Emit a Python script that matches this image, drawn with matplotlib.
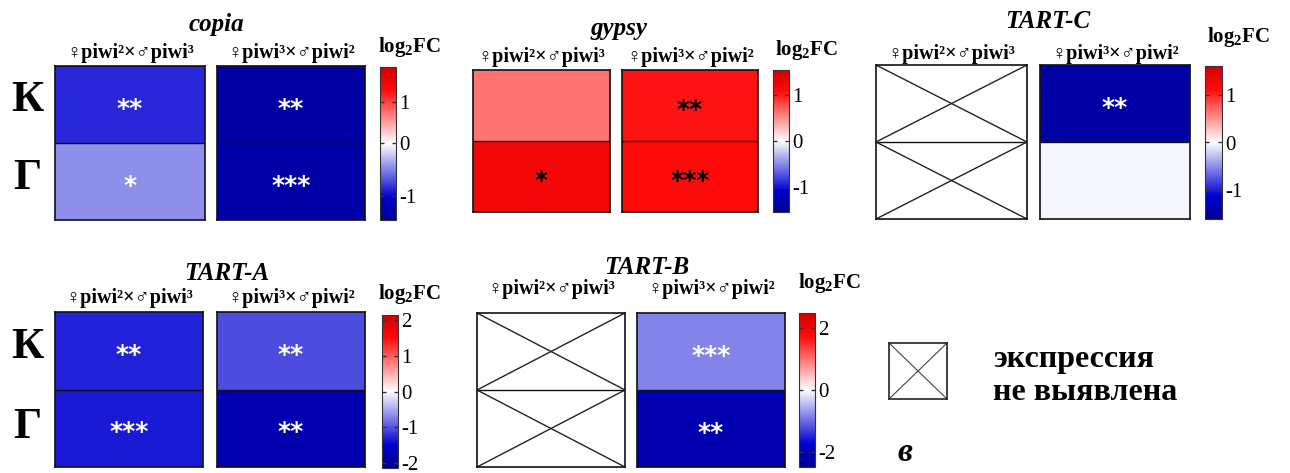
import matplotlib
matplotlib.use("Agg")
import matplotlib.pyplot as plt
import numpy as np
from matplotlib.colors import LinearSegmentedColormap, TwoSlopeNorm
from matplotlib.cm import ScalarMappable

plt.rcParams['axes.unicode_minus'] = False
plt.rcParams['mathtext.fontset'] = 'custom'
plt.rcParams['mathtext.bf'] = 'Liberation Serif:bold'
plt.rcParams['mathtext.rm'] = 'Liberation Serif'

# data: rows = К, Г ; columns = ♀piwi2×♂piwi3, ♀piwi3×♂piwi2 ; nan = no expression
titles = ['copia', 'gypsy', 'TART-C', 'TART-A', 'TART-B']
rows = ['К', 'Г']
cols = ['♀piwi²×♂piwi³', '♀piwi³×♂piwi²']

copia_fc = [[-0.85, -1.30], [-0.45, -1.28]]
gypsy_fc = [[0.62, 1.05], [1.20, 1.10]]
tartc_fc = [[np.nan, -1.45], [np.nan, -0.05]]
tarta_fc = [[-1.30, -1.05], [-1.35, -1.80]]
tartb_fc = [[np.nan, -0.85], [np.nan, -2.10]]

copia_sig = [['**', '**'], ['*', '***']]
gypsy_sig = [['', '**'], ['*', '***']]
tartc_sig = [['', '**'], ['', '']]
tarta_sig = [['**', '**'], ['***', '**']]
tartb_sig = [['', '***'], ['', '**']]

copia_lim = (-1.45, 1.85)
gypsy_lim = (-1.55, 1.55)
tartc_lim = (-1.62, 1.62)
tarta_lim = (-2.15, 2.15)
tartb_lim = (-2.5, 2.5)

copia_ticks = [-1, 0, 1]
gypsy_ticks = [-1, 0, 1]
tartc_ticks = [-1, 0, 1]
tarta_ticks = [-2, -1, 0, 1, 2]
tartb_ticks = [-2, 0, 2]

W, H = 1290, 473
fig = plt.figure(figsize=(W / 100, H / 100), dpi=100)

def box(x0, y0, x1, y1):
    return [x0 / W, 1 - y1 / H, (x1 - x0) / W, (y1 - y0) / H]

def ftext(x, y, s, **kw):
    fig.text(x / W, 1 - y / H, s, **kw)

cmap = LinearSegmentedColormap.from_list('fc', [
    (0.0, '#00008c'), (0.15, '#0000d2'), (0.5, '#ffffff'),
    (0.85, '#ff0a0a'), (1.0, '#d20000')])
cmap.set_bad('white')

serif = ['Liberation Serif', 'DejaVu Serif', 'DejaVu Sans']

def panel(title, fc, sig, lim, ticks, col1, col2, yy, cb, title_xy, lab_y, cb_lab):
    fc = np.array(fc, dtype=float)
    norm = TwoSlopeNorm(vcenter=0, vmin=lim[0], vmax=lim[1])
    for j, (x0, x1) in enumerate([col1, col2]):
        ax = fig.add_axes(box(x0, yy[0], x1, yy[1]))
        z = np.ma.masked_invalid(fc[:, j:j + 1])
        ax.pcolormesh(z, cmap=cmap, norm=norm)
        ax.set_xlim(0, 1)
        ax.set_ylim(2, 0)
        ax.axhline(1, color='#111111', lw=1)
        for sp in ax.spines.values():
            sp.set_linewidth(1.2)
            sp.set_color('#111111')
        ax.set_xticks([])
        ax.set_yticks([])
        for r in range(2):
            if np.isnan(fc[r, j]):
                ax.plot([0, 1], [r, r + 1], color='#222222', lw=1)
                ax.plot([0, 1], [r + 1, r], color='#222222', lw=1)
            elif sig[r][j]:
                c = 'black' if fc[r, j] > 0 else 'white'
                ax.annotate(sig[r][j], (0.5, r + 0.5), xytext=(0, -3),
                            textcoords='offset points', ha='center', va='center',
                            color=c, fontsize=18, fontweight='bold',
                            family='DejaVu Sans')
        ftext((x0 + x1) / 2, lab_y, cols[j], ha='center', va='center',
              fontsize=14.5, fontweight='bold', family=serif)
    cax = fig.add_axes(box(cb[0], cb[1], cb[2], cb[3]))
    sm = ScalarMappable(norm=norm, cmap=cmap)
    cbar = fig.colorbar(sm, cax=cax, ticks=ticks)
    cbar.outline.set_linewidth(0.8)
    cbar.outline.set_edgecolor('#333333')
    cax.tick_params(axis='y', direction='in', left=True, right=True,
                    length=3, width=1, color='#333333', labelsize=15, pad=2)
    for t in cax.get_yticklabels():
        t.set_family(serif)
    ftext(title_xy[0], title_xy[1], title, ha='center', va='center',
          fontsize=18, fontweight='bold', style='italic', family=serif)
    ftext(cb_lab[0], cb_lab[1], r'$\mathbf{log_2FC}$', ha='left', va='center',
          fontsize=15)

panel(titles[0], copia_fc, copia_sig, copia_lim, copia_ticks,
      (55, 205), (217, 365), (66, 220), (380, 67, 396, 220),
      (216, 24), 53, (378, 47))
panel(titles[1], gypsy_fc, gypsy_sig, gypsy_lim, gypsy_ticks,
      (473, 610), (622, 758), (70, 212), (773, 70, 789, 212),
      (619, 29), 57, (775, 50))
panel(titles[2], tartc_fc, tartc_sig, tartc_lim, tartc_ticks,
      (876, 1027), (1040, 1190), (65, 219), (1205, 66, 1222, 219),
      (1048, 21), 54, (1207, 37))
panel(titles[3], tarta_fc, tarta_sig, tarta_lim, tarta_ticks,
      (55, 203), (217, 365), (312, 467), (382, 315, 398, 468),
      (227, 273), 298, (378, 294))
panel(titles[4], tartb_fc, tartb_sig, tartb_lim, tartb_ticks,
      (477, 625), (637, 785), (313, 467), (799, 313, 815, 467),
      (647, 267), 289, (798, 283))

# row labels
for ys in [(100, 178), (347, 427)]:
    for lab, y in zip(rows, ys):
        ftext(27, y, lab, ha='center', va='center', fontsize=32,
              fontweight='bold', family=serif)

# legend for "no expression"
lax = fig.add_axes(box(889, 343, 947, 399))
lax.plot([0, 1], [0, 1], color='#444444', lw=0.8)
lax.plot([0, 1], [1, 0], color='#444444', lw=0.8)
lax.set_xlim(0, 1)
lax.set_ylim(0, 1)
lax.set_xticks([])
lax.set_yticks([])
for sp in lax.spines.values():
    sp.set_linewidth(1.2)
    sp.set_color('#222222')
ftext(993, 360, 'экспрессия', ha='left', va='center', fontsize=23,
      fontweight='bold', family=serif)
ftext(993, 393, 'не выявлена', ha='left', va='center', fontsize=23,
      fontweight='bold', family=serif)
ftext(897, 452, 'в', ha='left', va='center', fontsize=24,
      fontweight='bold', style='italic', family=serif)

fig.savefig('out.png', dpi=100)
